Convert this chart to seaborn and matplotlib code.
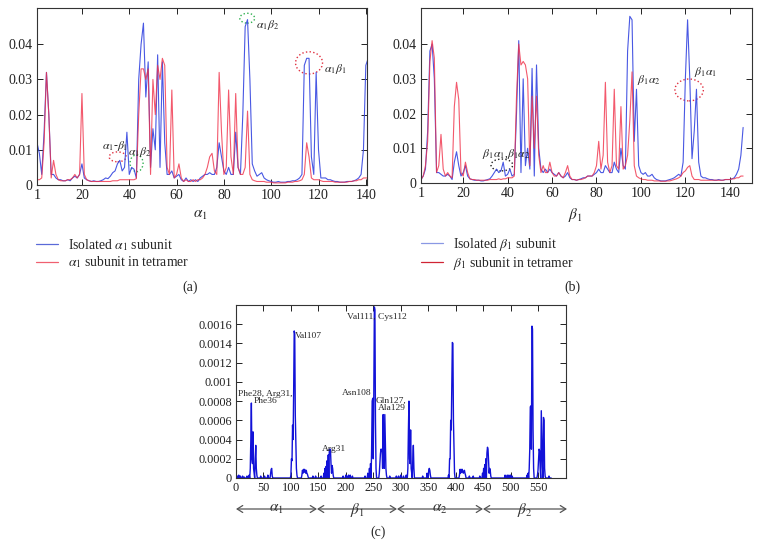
import numpy as np
import pandas as pd
import matplotlib
matplotlib.use("Agg")
import matplotlib.pyplot as plt
import seaborn as sns
from matplotlib.patches import Ellipse
from matplotlib.ticker import FuncFormatter
from matplotlib.lines import Line2D

# ---------------- data (values in units of 1e-3 for panels a/b) ----------------
UNIT_AB = 1e-3
alpha_isolated = [12,9,3,15,32,20,3,3,2,1.5, 1.5,1.2,1.2,1.5,1.2,2,2.5,2,3,6,
                  2,1.5,1.2,1,1.2,1,1,1.2,1.5,2, 1.8,2.5,3.5,4,6,7,4,5,15,3,
                  5,4.5,2,30,40,46,25,35,5,16, 10,37,5,35,12,3,3,4,2,2.5,
                  3,1.5,1,2,1,1.5,1,1.5,1,2, 2.5,3,3,3.5,3,3,5,12,8,4,
                  3,5,3,3,15,5,3,20,45,47, 30,6,4,2.5,3,3.5,2,1.5,1.2,1,
                  0.8,0.8,1,0.8,0.8,0.8,1,1,1.2,1.2, 1.5,2,3,34,36,36,8,3,32,10,
                  2,2,2,1.5,1.5,1.2,1,1,0.8,0.8, 0.8,1,1,1,1.2,1.5,2,3,10,34,
                  36]
alpha_tetramer = [1.5,1.5,2,12,32,20,2,7,3,1.5, 1.2,1.2,1.2,1.5,1.5,2,3,2,3,26,
                  3,1.5,1.2,1,1,1,1,1,1,1, 1,1,1.2,1.2,1.2,1.5,1.5,1.5,1.5,1.5,
                  1.5,1.5,1.8,20,33,33,30,33,3,30, 20,34,30,36,34,5,3,27,2,3,
                  6,2,1,1.5,1,1,1.5,1,1.5,1.5, 2,3,5,8,9,4,3,32,15,3,
                  5,27,8,3,26,5,3,3,5,21, 3,1.5,1.2,1,1,1,1,0.8,0.8,0.8,
                  0.6,0.6,0.6,0.6,0.6,0.6,0.8,0.8,0.8,1, 1,1.2,1.5,3,12,8,2,1.5,1.5,1.5,
                  1.2,1,1,1,1,1,0.8,0.8,0.8,0.8, 0.8,0.8,1,1,1.2,1.2,1.5,1.5,2,2,
                  2]
beta_isolated = [1,2,4,15,38,40,30,3,3,2.5, 2,2,2.5,2,1,6,9,5,2,3,
                 5,2,1.2,1,0.8,0.8,0.8,0.6,0.6,0.8, 1,1.2,2,3,4,3,3.5,6,2,2.5,
                 4,2,2.5,20,41,3,30,5,10,4, 33,2,34,10,4,3,4,3,4,3,
                 2.5,2,3,2,1.5,2,3,1.5,1,1, 0.8,1,1.2,1.5,1.5,2,2,2,2.5,3,
                 4,3,3,5,4,3,3,6,4,3, 10,5,4,38,48,47,12,27,5,3,
                 2.5,3,2,2,2.5,1.5,1,0.8,0.6,0.6, 0.6,0.8,1,1.2,1.5,2,2.5,2,6,30,
                 47,30,7,15,27,6,2,1.5,1.5,1.2, 1,1,0.8,0.8,1,0.8,0.8,1,1,1,
                 1.2,1.5,2.5,4,8,16]
beta_tetramer = [1,2,5,12,35,41,36,3,5,14, 4,2,3,2,1.5,22,29,24,3,2,
                 6,3,1.2,1,1,0.8,0.8,0.8,0.8,0.8, 0.8,1,1,1,1,1.2,1,1.2,1.2,1.5,
                 1.5,1.5,2,25,40,34,35,34,30,5, 25,10,25,8,3,5,3,3,6,3,
                 2,2,3,2,1.5,3,5,2,1,1, 0.8,1,1,1.2,1.5,2,2,2,3,5,
                 12,4,8,29,6,3,5,27,5,4, 22,4,5,8,18,32,5,2,1.5,1.2,
                 1,1,0.8,0.8,0.8,0.6,0.6,0.6,0.5,0.5, 0.5,0.6,0.6,0.8,1,1.2,1.5,2,3,3.5,
                 4.5,5,2,1,1,1,0.8,0.8,0.8,0.8, 0.8,0.8,0.8,0.8,0.8,0.8,0.8,1,1,1,
                 1.2,1.2,1.5,1.5,2,2]

# panel c: tetramer residues 1..574, nonzero values listed (units of 1e-4), rest zero
UNIT_C = 1e-4
N_TETRAMER = 574
c_residues = [3,5,8,12,15,20,24,
              26,27,28,29,30,31,32,33,35,36,37,38,
              45,52,58,63,64,65,66,
              100,101,102,103,104,105,106,107,108,109,110,111,
              120,121,122,123,124,125,126,127,128,129,130,131,
              140,145,
              155,160,162,164,166,168,170,171,172,173,174,175,176,177,
              195,200,202,205,208,212,
              235,240,243,245,247,248,249,250,251,252,253,254,255,
              261,262,263,264,265,266,267,268,269,270,271,272,273,274,
              280,
              292,296,300,305,310,
              313,314,315,316,317,318,319,320,322,323,324,
              340,348,351,352,353,354,
              387,389,390,391,392,393,394,395,396,397,398,
              407,408,409,410,411,412,413,414,415,416,417,418,
              425,432,
              444,449,451,453,455,457,458,459,460,461,462,463,464,
              490,494,497,500,503,
              530,532,534,535,536,537,538,539,540,541,542,
              549,550,551,552,553,554,556,557,558,560,561,562,563,
              570]
c_values = [0.2,0.3,0.2,0.2,0.1,0.2,0.3,
            1.0,4.0,7.8,2.0,1.5,4.8,1.0,0.5,2.0,3.4,1.0,0.3,
            0.2,0.2,0.3,0.5,0.9,1.0,0.2,
            0.3,2.0,1.8,5.5,4.0,9.0,15.3,15.0,6.5,4.0,1.0,0.3,
            0.3,0.8,0.5,0.9,0.6,0.9,0.7,0.5,0.8,0.5,0.4,0.2,
            0.2,0.2,
            0.2,0.5,1.0,1.2,1.8,2.4,3.0,2.8,3.0,1.5,0.5,1.3,1.0,0.3,
            0.2,0.3,0.2,0.3,0.3,0.2,
            0.2,0.5,1.0,1.5,3.0,8.0,8.3,2.0,9.0,17.8,17.5,6.0,1.0,
            0.5,1.5,2.5,3.0,2.8,3.0,1.0,6.6,2.0,1.0,6.6,4.0,1.0,0.3,
            0.2,
            0.2,0.2,0.3,0.2,0.3,
            1.0,5.0,8.0,2.0,1.5,5.0,1.0,0.5,2.0,3.4,1.0,
            0.2,0.5,0.8,1.0,0.8,0.3,
            0.3,2.0,2.0,6.0,5.0,9.5,14.1,14.0,6.0,3.0,0.5,
            0.3,0.9,0.5,0.9,0.6,0.9,0.7,0.5,0.6,0.8,0.5,0.3,
            0.2,0.2,
            0.2,0.5,1.0,1.4,2.0,2.6,3.2,3.0,1.8,0.5,1.0,0.8,0.2,
            0.3,0.3,0.3,0.3,0.2,
            0.3,0.5,1.0,3.0,7.4,7.5,3.0,15.8,15.5,5.0,1.0,
            0.3,0.8,2.0,3.0,2.8,1.0,7.0,4.0,1.2,6.3,6.0,1.0,0.2,
            0.2]

x_ticks_ab = [1, 20, 40, 60, 80, 100, 120, 140]
y_ticks_ab = [0, 0.01, 0.02, 0.03, 0.04]
x_ticks_c = [0, 50, 100, 150, 200, 250, 300, 350, 400, 450, 500, 550]
y_ticks_c = [0, 0.0002, 0.0004, 0.0006, 0.0008, 0.001, 0.0012, 0.0014, 0.0016]
segment_labels = [r"$\alpha_1$", r"$\beta_1$", r"$\alpha_2$", r"$\beta_2$"]

# ---------------- build tables ----------------
df_a = pd.DataFrame({"res": np.arange(1, len(alpha_isolated) + 1),
                     "iso": np.array(alpha_isolated) * UNIT_AB,
                     "tet": np.array(alpha_tetramer) * UNIT_AB})
df_b = pd.DataFrame({"res": np.arange(1, len(beta_isolated) + 1),
                     "iso": np.array(beta_isolated) * UNIT_AB,
                     "tet": np.array(beta_tetramer) * UNIT_AB})
c_full = np.zeros(N_TETRAMER)
c_full[np.array(c_residues) - 1] = np.array(c_values) * UNIT_C
df_c = pd.DataFrame({"res": np.arange(1, N_TETRAMER + 1), "val": c_full})

# ---------------- style ----------------
sns.set_theme(style="ticks")
plt.rcParams["font.family"] = ["Liberation Serif", "DejaVu Serif"]
plt.rcParams["mathtext.fontset"] = "stix"
plt.rcParams["axes.linewidth"] = 0.8
plt.rcParams["axes.edgecolor"] = "#333333"

W, H = 762, 559
fig = plt.figure(figsize=(W / 100, H / 100), dpi=100)

def fbox(l, t, r, b):
    return [l / W, 1 - b / H, (r - l) / W, (b - t) / H]

ax_a = fig.add_axes(fbox(37, 8, 367, 185))
ax_b = fig.add_axes(fbox(421, 8, 752, 183))
ax_c = fig.add_axes(fbox(236, 305, 566, 478))

BLUE = "#3546e0"
RED = "#f03048"
fmt = FuncFormatter(lambda v, p: f"{v:g}")

for ax in (ax_a, ax_b, ax_c):
    ax.tick_params(direction="in", top=True, right=True, length=4, width=0.7,
                   labelsize=10, colors="#222222", pad=3)
    ax.yaxis.set_major_formatter(fmt)

# panel a
sns.lineplot(data=df_a, x="res", y="iso", ax=ax_a, color=BLUE, lw=0.8, alpha=0.9)
sns.lineplot(data=df_a, x="res", y="tet", ax=ax_a, color=RED, lw=0.8, alpha=0.8)
ax_a.set_xlim(1, 140.5)
ax_a.set_ylim(0, 0.0503)
ax_a.set_xticks(x_ticks_ab)
ax_a.set_yticks(y_ticks_ab)
ax_a.set_xlabel("")
ax_a.set_ylabel("")

# panel b
sns.lineplot(data=df_b, x="res", y="iso", ax=ax_b, color=BLUE, lw=0.8, alpha=0.9)
sns.lineplot(data=df_b, x="res", y="tet", ax=ax_b, color=RED, lw=0.8, alpha=0.8)
ax_b.set_xlim(1, 150)
ax_b.set_ylim(0, 0.0504)
ax_b.set_xticks(x_ticks_ab)
ax_b.set_yticks(y_ticks_ab)
ax_b.set_xlabel("")
ax_b.set_ylabel("")

# panel c
sns.lineplot(data=df_c, x="res", y="val", ax=ax_c, color="#1212d8", lw=1.0)
ax_c.set_xlim(0, 601)
ax_c.set_ylim(0, 0.0018)
ax_c.set_xticks(x_ticks_c)
ax_c.set_yticks(y_ticks_c)
ax_c.set_xlabel("")
ax_c.set_ylabel("")
ax_c.tick_params(labelsize=8.8)

# annotations panel a
ann_fs = 8.5
ax_a.add_patch(Ellipse((89.9, 0.0474), 6.3, 0.0028, fill=False, ls=":", ec="#30b050", lw=1))
ax_a.add_patch(Ellipse((116, 0.0347), 11.4, 0.0063, fill=False, ls=":", ec="#e03040", lw=1))
ax_a.add_patch(Ellipse((35.1, 0.0080), 7.2, 0.0028, fill=False, ls=":", ec="#e03040", lw=1))
ax_a.add_patch(Ellipse((43.1, 0.0062), 5.5, 0.0048, fill=False, ls=":", ec="#30b050", lw=1))
ax_a.text(93.7, 0.0455, r"$\alpha_1\beta_2$", fontsize=ann_fs, va="center")
ax_a.text(122.3, 0.0330, r"$\alpha_1\beta_1$", fontsize=ann_fs, va="center")
ax_a.text(28.4, 0.0110, r"$\alpha_1$-$\beta_1$", fontsize=ann_fs, va="center")
ax_a.text(39.3, 0.0094, r"$\alpha_1\beta_2$", fontsize=ann_fs, va="center")

# annotations panel b
ax_b.add_patch(Ellipse((37.4, 0.0052), 9.8, 0.0034, fill=False, ls=":", ec="#222222", lw=1))
ax_b.add_patch(Ellipse((121.7, 0.0268), 12.8, 0.0063, fill=False, ls=":", ec="#e03040", lw=1))
ax_b.text(28.4, 0.0083, r"$\beta_1\alpha_1$,$\beta_1\alpha_2$", fontsize=ann_fs, va="center")
ax_b.text(98.1, 0.0296, r"$\beta_1\alpha_2$", fontsize=ann_fs, va="center")
ax_b.text(123.7, 0.0320, r"$\beta_1\alpha_1$", fontsize=ann_fs, va="center")

# annotations panel c
cfs = 6.8
ax_c.text(53, 0.00084, "Phe28, Arg31,\nPhe36", fontsize=cfs, ha="center", va="center",
          linespacing=0.9)
ax_c.text(108, 0.00148, "Val107", fontsize=cfs, ha="left", va="center")
ax_c.text(179, 0.00030, "Arg31", fontsize=cfs, ha="center", va="center")
ax_c.text(256, 0.00167, "Val111, Cys112", fontsize=cfs, ha="center", va="center")
ax_c.text(246, 0.00088, "Asn108", fontsize=cfs, ha="right", va="center")
ax_c.text(283, 0.000765, "Gln127,\nAla129", fontsize=cfs, ha="center", va="center",
          linespacing=0.9)

# x labels, legends, captions
fig.text(200 / W, 1 - 215 / H, r"$\alpha_1$", fontsize=11, ha="center", va="center")
fig.text(575 / W, 1 - 215 / H, r"$\beta_1$", fontsize=11, ha="center", va="center")

leg_kw = dict(frameon=False, fontsize=9.8, handlelength=1.6, handletextpad=0.75,
              labelspacing=0.12, borderpad=0, borderaxespad=0, loc="upper left",
              bbox_transform=fig.transFigure)
ha_ = [Line2D([], [], color="#5a6ad8", lw=0.9), Line2D([], [], color="#f06070", lw=0.9)]
ax_a.legend(ha_, [r"Isolated $\alpha_1$ subunit", r"$\alpha_1$ subunit in tetramer"],
            bbox_to_anchor=(36 / W, 1 - 237 / H), **leg_kw)
hb_ = [Line2D([], [], color="#8a98e4", lw=0.9), Line2D([], [], color="#d02434", lw=0.9)]
ax_b.legend(hb_, [r"Isolated $\beta_1$ subunit", r"$\beta_1$ subunit in tetramer"],
            bbox_to_anchor=(421 / W, 1 - 236 / H), **leg_kw)

fig.text(190 / W, 1 - 287 / H, "(a)", fontsize=10, ha="center", va="center")
fig.text(572 / W, 1 - 287 / H, "(b)", fontsize=10, ha="center", va="center")
fig.text(378 / W, 1 - 532 / H, "(c)", fontsize=10, ha="center", va="center")

# segment arrows below panel c
bounds = [236, 317, 397, 483, 567]
y_arr = 1 - 509 / H
for i in range(4):
    x0, x1 = bounds[i] / W, bounds[i + 1] / W
    fig.add_artist(matplotlib.patches.FancyArrowPatch(
        (x0, y_arr), (x1, y_arr), transform=fig.transFigure,
        arrowstyle="<->,head_length=4,head_width=2.5", color="#555555", lw=0.9,
        shrinkA=0, shrinkB=0))
    fig.text((x0 + x1) / 2, y_arr - 0.001, segment_labels[i], fontsize=11,
             ha="center", va="center", color="#333333")

fig.savefig("out.png", dpi=100)
